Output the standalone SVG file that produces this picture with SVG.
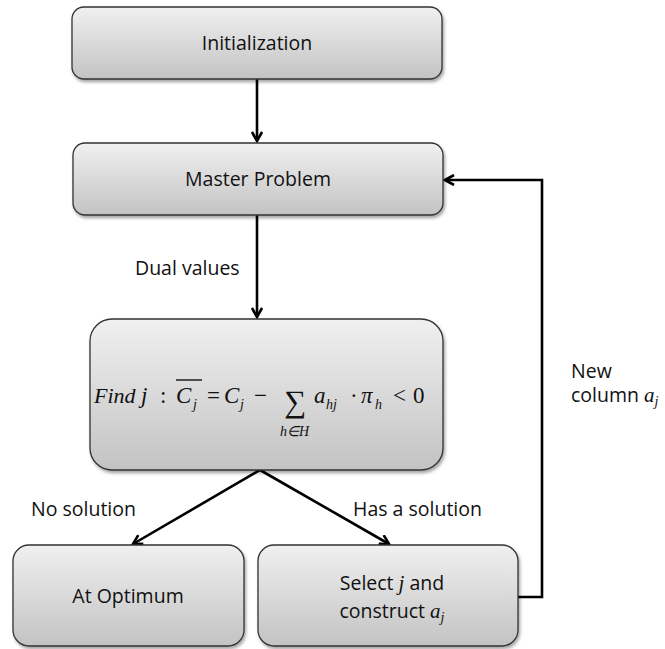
<svg xmlns="http://www.w3.org/2000/svg" width="665" height="649" viewBox="0 0 665 649">
<defs>
<linearGradient id="g" x1="0" y1="0" x2="0" y2="1">
<stop offset="0" stop-color="#f0f0f0"/>
<stop offset="1" stop-color="#c3c3c3"/>
</linearGradient>
<filter id="sh" x="-10%" y="-10%" width="120%" height="130%">
<feDropShadow dx="1.5" dy="2.5" stdDeviation="1.8" flood-color="#000" flood-opacity="0.35"/>
</filter>
<marker id="ah" viewBox="0 0 12 12" refX="10" refY="6" markerWidth="12" markerHeight="12" markerUnits="userSpaceOnUse" orient="auto">
<path d="M1,1 L10,6 L1,11" fill="none" stroke="#000" stroke-width="2.6" stroke-linejoin="miter"/>
</marker>
</defs>
<style>
.box{fill:url(#g);stroke:#333;stroke-width:1.3;filter:url(#sh)}
.t{font-family:"Open Sans","Liberation Sans",sans-serif;font-size:19.5px;fill:#111}
.m{font-family:"Liberation Serif","Times New Roman",serif;font-style:italic;fill:#111}
.mr{font-family:"Liberation Serif","Times New Roman",serif;fill:#111}
.c{fill:none;stroke:#000;stroke-width:2.6}
</style>
<g id="connectors">
<line class="c" x1="257" y1="79" x2="257" y2="141" marker-end="url(#ah)"/>
<line class="c" x1="257" y1="215" x2="257" y2="317" marker-end="url(#ah)"/>
<line class="c" x1="260" y1="470" x2="133" y2="544" marker-end="url(#ah)"/>
<line class="c" x1="260" y1="470" x2="389" y2="544" marker-end="url(#ah)"/>
<polyline class="c" points="518,597 542,597 542,180 445,180" marker-end="url(#ah)"/>
</g>
<g id="lbl-dual"><text class="t" x="135" y="275">Dual values</text></g>
<g id="lbl-nosol"><text class="t" x="31" y="516">No solution</text></g>
<g id="lbl-hassol"><text class="t" x="353" y="516">Has a solution</text></g>
<g id="lbl-new">
<text class="t" x="571" y="378">New</text>
<text class="t" x="571" y="402">column <tspan class="m" font-size="21px">a</tspan><tspan class="m" font-size="14px" dy="4">j</tspan></text>
</g>
<g id="n-init">
<rect class="box" x="72" y="7" width="370" height="72" rx="12"/>
<text class="t" x="257" y="50" text-anchor="middle">Initialization</text>
</g>
<g id="n-master">
<rect class="box" x="73" y="143" width="370" height="72" rx="12"/>
<text class="t" x="258" y="186" text-anchor="middle">Master Problem</text>
</g>
<g id="n-find">
<rect class="box" x="90" y="319" width="353" height="151" rx="22"/>
<text class="m" font-size="22px" x="94" y="403">Find</text>
<text class="m" font-size="23px" x="141" y="403">j</text>
<text class="mr" font-size="23px" x="160" y="403">:</text>
<text class="m" font-size="23px" x="176" y="403">C</text>
<text class="m" font-size="14px" x="193" y="409">j</text>
<line x1="176" y1="380" x2="202" y2="380" stroke="#111" stroke-width="1.4"/>
<text class="mr" font-size="23px" x="207" y="403">=</text>
<text class="m" font-size="23px" x="224" y="403">C</text>
<text class="m" font-size="14px" x="240" y="409">j</text>
<text class="mr" font-size="23px" x="254" y="403">−</text>
<text class="mr" font-size="31px" x="284" y="412">∑</text>
<text class="m" font-size="14px" x="280" y="436">h∈H</text>
<text class="m" font-size="23px" x="314" y="403">a</text>
<text class="m" font-size="14px" x="326" y="409">hj</text>
<text class="mr" font-size="23px" x="350" y="403">·</text>
<text class="m" font-size="23px" x="361" y="403">π</text>
<text class="m" font-size="14px" x="375" y="409">h</text>
<text class="mr" font-size="23px" x="393" y="403">&lt;</text>
<text class="mr" font-size="23px" x="413" y="403">0</text>
</g>
<g id="n-opt">
<rect class="box" x="13" y="545" width="231" height="101" rx="16"/>
<text class="t" x="128" y="603" text-anchor="middle">At Optimum</text>
</g>
<g id="n-select">
<rect class="box" x="258" y="545" width="260" height="101" rx="16"/>
<text class="t" x="392" y="590" text-anchor="middle">Select <tspan class="m" font-size="21px">j</tspan> and</text>
<text class="t" x="392" y="618" text-anchor="middle">construct <tspan class="m" font-size="21px">a</tspan><tspan class="m" font-size="14px" dy="4">j</tspan></text>
</g>
</svg>
